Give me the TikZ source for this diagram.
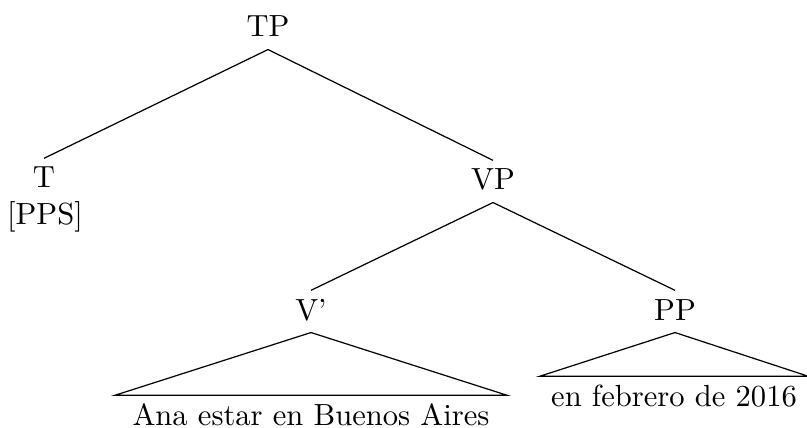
\documentclass[tikz,border=0pt]{standalone}
\begin{document}
\begin{tikzpicture}[x=0.327pt,y=-0.327pt,
  lab/.style={anchor=base,inner xsep=0pt,inner ysep=0pt,text height=9.5pt,text depth=3.9pt},
  leaf/.style={anchor=base,inner ysep=0pt,text height=9.5pt,text depth=0pt},
  edge/.style={draw=black,line width=0.4pt}]
\useasboundingbox (0,0) rectangle (807,428);
\node[lab] (tp) at (268,37) {TP};
\node[lab] (t) at (44,188) {T};
\node[anchor=base,inner sep=0pt] (pps) at (45,225) {[PPS]};
\node[lab] (vp) at (493,190) {VP};
\node[lab] (vbar) at (311,320) {V'};
\node[lab] (pp) at (675,320) {PP};
\node[leaf,inner xsep=5.6pt] (l1) at (311,425) {Ana estar en Buenos Aires};
\node[leaf,inner xsep=3.6pt] (l2) at (674,406) {en febrero de 2016};
\draw[edge] (tp.south) -- (t.north);
\draw[edge] (tp.south) -- (vp.north);
\draw[edge] (vp.south) -- (vbar.north);
\draw[edge] (vp.south) -- (pp.north);
\draw[edge] (vbar.south) -- (l1.north west) -- (l1.north east) -- cycle;
\draw[edge] (pp.south) -- (l2.north west) -- (l2.north east) -- cycle;
\end{tikzpicture}
\end{document}
